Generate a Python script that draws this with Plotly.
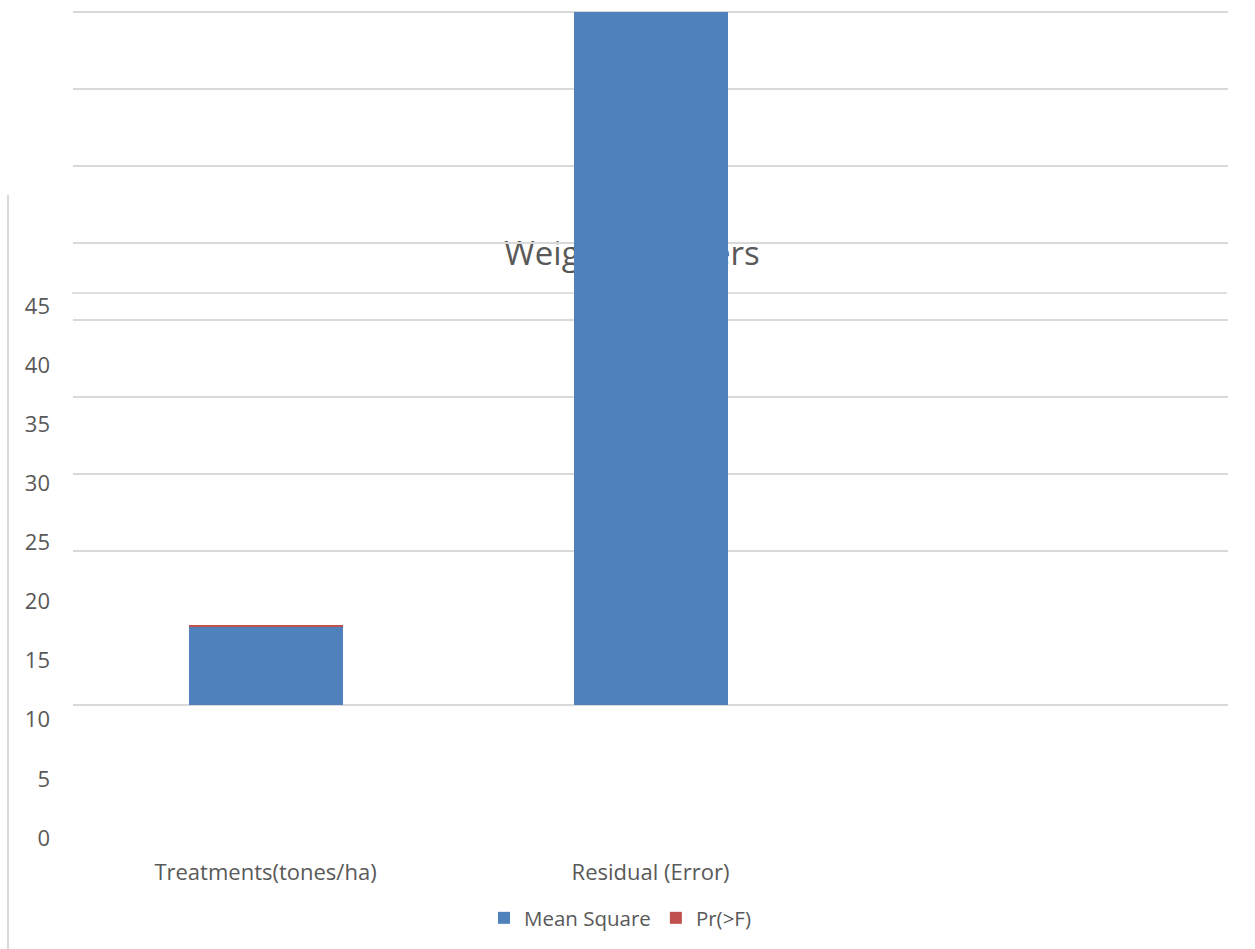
import plotly.graph_objects as go

# ANOVA summary values
categories = ["Treatments(tones/ha)", "Residual (Error)"]
mean_square = [5.06, 45.0]
pr_f = [0.07, None]
value_ticks = [0, 5, 10, 15, 20, 25, 30, 35, 40, 45]
title_text = "Weight of tubers"

W, H = 1255, 949
FONT = "'Open Sans', Lato, sans-serif"
TXT = "#595959"
GRID = "#d9d9d9"


def py(px):
    """Pixel row (from top) to paper fraction."""
    return (H - px) / H


def pxr(px):
    """Pixel column to paper fraction."""
    return px / W


x_pos = list(range(len(categories)))

# bar value axis: 0 sits on row 705, 45 on row 12; pad a little so the
# end gridlines are drawn
Y0_PX, Y45_PX = 705, 12
PAD = 0.3
unit_px = (Y0_PX - Y45_PX) / 45
y2_range = [-PAD, 45 + PAD]
y2_domain = [py(Y0_PX + PAD * unit_px), py(Y45_PX - PAD * unit_px)]

fig = go.Figure()

# Title layer (drawn first so the bars sit on top of it)
fig.add_trace(go.Scatter(
    x=[0.5036], y=[py(257)], mode="text", text=[title_text],
    textfont=dict(family=FONT, size=33, color=TXT),
    textposition="middle center", showlegend=False, hoverinfo="skip",
    xaxis="x", yaxis="y", cliponaxis=False,
))

# Stacked bars
fig.add_trace(go.Bar(
    x=x_pos, y=mean_square, name="Mean Square",
    marker=dict(color="#4f81bd", line=dict(width=0)),
    xaxis="x2", yaxis="y2",
))
fig.add_trace(go.Bar(
    x=x_pos, y=pr_f, name="Pr(>F)",
    marker=dict(color="#c0504d", line=dict(width=0)),
    xaxis="x2", yaxis="y2",
))

# Holder for the value-label axis
fig.add_trace(go.Scatter(
    x=[None], y=[None], mode="markers", showlegend=False, hoverinfo="skip",
    xaxis="x3", yaxis="y3",
))

fig.update_layout(
    width=W, height=H,
    margin=dict(l=0, r=0, t=0, b=0, autoexpand=False),
    paper_bgcolor="white",
    plot_bgcolor="rgba(0,0,0,0)",
    barmode="stack",
    bargap=0.6,
    font=dict(family=FONT, size=22, color=TXT),
    # title layer axes
    xaxis=dict(domain=[0, 1], range=[0, 1], visible=False, fixedrange=True,
               automargin=False),
    yaxis=dict(domain=[0, 1], range=[0, 1], visible=False, fixedrange=True,
               automargin=False),
    # bar axes
    xaxis2=dict(
        domain=[pxr(73), pxr(1228)], range=[-0.5, 2.5],
        anchor="free", position=py(857), automargin=False,
        tickvals=x_pos, ticktext=categories, ticks="",
        showgrid=False, zeroline=False, showline=False,
        tickfont=dict(family=FONT, size=22, color=TXT),
    ),
    yaxis2=dict(
        domain=y2_domain, range=y2_range, anchor="x2", automargin=False,
        tickvals=[v for v in value_ticks if v != 5],
        showticklabels=False, ticks="",
        showgrid=True, gridcolor=GRID, gridwidth=2,
        zeroline=False, showline=False,
    ),
    # value labels axis
    xaxis3=dict(domain=[pxr(51), pxr(52)], range=[0, 1], visible=False,
                automargin=False),
    yaxis3=dict(
        domain=[py(838), py(306)], range=[0, 45], anchor="x3",
        automargin=False,
        tickvals=value_ticks, ticks="", showgrid=False,
        zeroline=False, showline=False,
        tickfont=dict(family=FONT, size=22, color=TXT),
    ),
    legend=dict(
        orientation="h", x=pxr(484), xanchor="left", y=py(918), yanchor="middle",
        font=dict(family=FONT, size=20.5, color=TXT),
        bgcolor="rgba(0,0,0,0)", traceorder="normal",
    ),
    shapes=[
        dict(type="line", xref="paper", yref="paper",
             x0=pxr(72), x1=pxr(1227), y0=py(293), y1=py(293),
             line=dict(color="#e0e0e0", width=2), layer="below"),
        dict(type="line", xref="paper", yref="paper",
             x0=pxr(8), x1=pxr(8), y0=py(195), y1=0,
             line=dict(color=GRID, width=2)),
    ],
)

fig.write_html("out.html")
